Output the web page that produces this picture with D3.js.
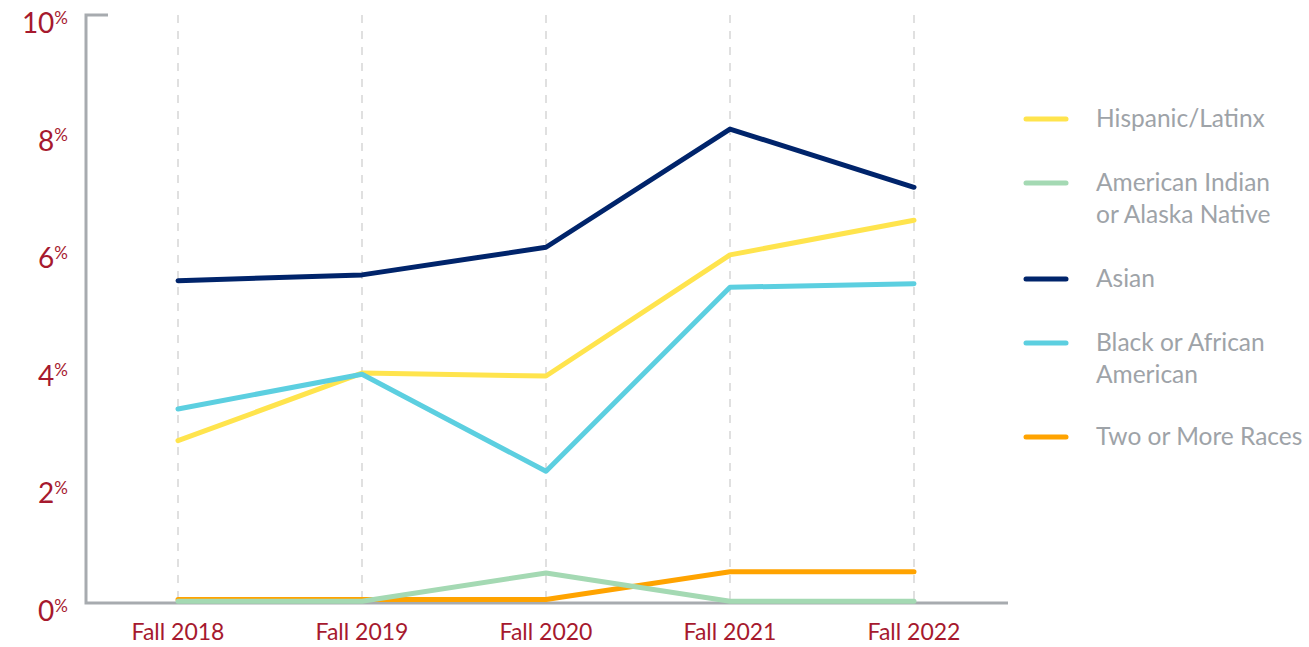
<!DOCTYPE html>
<meta charset="utf-8">
<head>
	<title>Enrollment by race/ethnicity</title>
	<script src="https://cdnjs.cloudflare.com/ajax/libs/d3/7.8.5/d3.min.js"></script>
</head>
<style type="text/css">
	body { margin: 0; background: #fff; font-family: "Lato", "Open Sans", sans-serif; }
	.tick-x { fill: #a6192e; font-size: 23px; }
	.tick-y { fill: #a6192e; font-size: 28px; }
	.legend-text { fill: #9ea3a8; font-size: 24.5px; }
</style>
<body>
<div id="chart"></div>
<script>
	// data (percent)
	var years = ["Fall 2018", "Fall 2019", "Fall 2020", "Fall 2021", "Fall 2022"];
	var yTicks = [0, 2, 4, 6, 8, 10];

	var hispanic = [2.76, 3.91, 3.86, 5.92, 6.51];
	var amIndian = [0.03, 0.03, 0.51, 0.03, 0.03];
	var asian = [5.48, 5.58, 6.05, 8.06, 7.07];
	var black = [3.30, 3.89, 2.24, 5.37, 5.43];
	var twoOrMore = [0.06, 0.06, 0.06, 0.53, 0.53];

	var seriesNames = ["Hispanic/Latinx", "American Indian or Alaska Native", "Asian", "Black or African American", "Two or More Races"];
	var legendLines = [["Hispanic/Latinx"], ["American Indian", "or Alaska Native"], ["Asian"], ["Black or African", "American"], ["Two or More Races"]];
	var colors = ["#ffe44d", "#a4d9b3", "#00246b", "#5ccfe0", "#ffa300"];
	var allValues = [hispanic, amIndian, asian, black, twoOrMore];

	var width = 1309, height = 647;
	var svg = d3.select("#chart").append("svg")
		.attr("width", width)
		.attr("height", height);

	var x = d3.scalePoint().domain(years).range([178, 914]);
	var y = d3.scaleLinear().domain([0, 10]).range([603, 15]);

	// dashed verticals
	svg.selectAll(".grid")
		.data(years)
	 .enter().append("line")
		.attr("x1", function(d) { return x(d); })
		.attr("x2", function(d) { return x(d); })
		.attr("y1", y(10))
		.attr("y2", y(0))
		.attr("stroke", "#d6d6d6")
		.attr("stroke-width", 1.5)
		.attr("stroke-dasharray", "8,8");

	// axes
	svg.append("path")
		.attr("d", "M108," + y(10) + "H86V" + y(0) + "H1008")
		.attr("fill", "none")
		.attr("stroke", "#a7abaf")
		.attr("stroke-width", 3);

	// y labels with superscript %
	var yl = svg.selectAll(".tick-y")
		.data(yTicks)
	 .enter().append("text")
		.attr("class", "tick-y")
		.attr("x", 68)
		.attr("y", function(d) { return y(d) + 18; })
		.attr("text-anchor", "end");
	yl.append("tspan").text(function(d) { return d; });
	yl.append("tspan")
		.attr("font-size", "17px")
		.attr("dy", "-0.55em")
		.text("%");

	svg.selectAll(".tick-x")
		.data(years)
	 .enter().append("text")
		.attr("class", "tick-x")
		.attr("x", function(d) { return x(d); })
		.attr("y", 640)
		.attr("text-anchor", "middle")
		.text(function(d) { return d; });

	// lines
	var line = d3.line()
		.x(function(d, i) { return x(years[i]); })
		.y(function(d) { return y(d); });

	// draw order as in the picture (green sits over orange at the baseline)
	var order = [4, 1, 0, 3, 2];
	order.forEach(function(k) {
		svg.append("path")
			.datum(allValues[k])
			.attr("d", line)
			.attr("fill", "none")
			.attr("stroke", colors[k])
			.attr("stroke-width", 5)
			.attr("stroke-linecap", "round")
			.attr("stroke-linejoin", "round");
	});

	// legend
	var legendY = [119, 183, 279, 343, 437];
	seriesNames.forEach(function(name, i) {
		svg.append("line")
			.attr("x1", 1026).attr("x2", 1066)
			.attr("y1", legendY[i]).attr("y2", legendY[i])
			.attr("stroke", colors[i])
			.attr("stroke-width", 5)
			.attr("stroke-linecap", "round");
		var t = svg.append("text")
			.attr("class", "legend-text")
			.attr("x", 1096)
			.attr("y", legendY[i] + 8);
		legendLines[i].forEach(function(s, j) {
			t.append("tspan")
				.attr("x", 1096)
				.attr("dy", j === 0 ? 0 : 32)
				.text(s);
		});
	});
</script>
</body>
